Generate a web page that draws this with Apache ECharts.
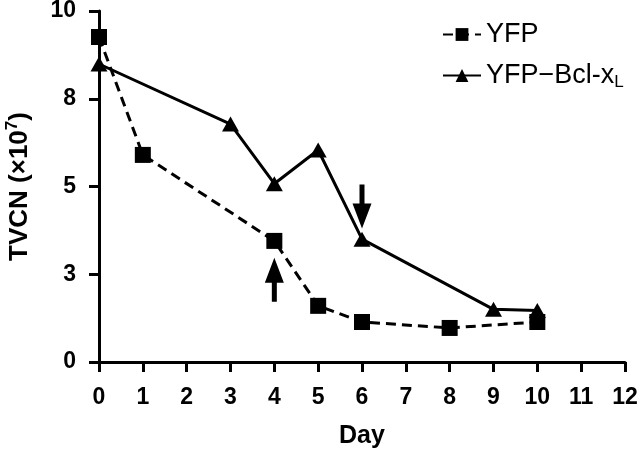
<!DOCTYPE html>
<html><head><meta charset="utf-8">
<script src="https://cdn.jsdelivr.net/npm/echarts@6/dist/echarts.min.js"></script>
<style>html,body{margin:0;padding:0;background:#fff}#c{width:640px;height:452px}</style>
</head><body><div id="c"></div>
<script>
const yfpDays = [0, 1, 4, 5, 6, 8, 10];
const yfpValues = [9.26, 5.9, 3.45, 1.6, 1.14, 0.97, 1.14];
const bclDays = [0, 3, 4, 5, 6, 9, 10];
const bclValues = [8.49, 6.78, 5.08, 6.04, 3.5, 1.5, 1.47];
const xTicks = [0,1,2,3,4,5,6,7,8,9,10,11,12];
const yTickLabels = ['0','3','5','8','10'];
const upArrow = {day: 4, center: 2.34};
const downArrow = {day: 6, center: 4.43};

const chart = echarts.init(document.getElementById('c'));
const font = 'Liberation Sans, Arial, sans-serif';
const downPath = 'path://M7,0 L12,0 L12,19 L19,19 L9.5,44 L0,19 L7,19 Z';
const upPath = 'path://M9.5,0 L19,25 L12,25 L12,44 L7,44 L7,25 L0,25 Z';
chart.setOption({
  animation: false,
  grid: {left: 99, right: 15, top: 11, bottom: 90, containLabel: false, outerBoundsMode: 'none'},
  legend: {
    orient: 'vertical', left: 437, top: 16, itemWidth: 38, itemHeight: 16, itemGap: 14,
    data: ['YFP', 'YFP-Bcl'],
    formatter: n => n === 'YFP' ? '{a|YFP}' : '{a|YFP\u2212Bcl-x}{s|L}',
    textStyle: {
      fontFamily: font, color: '#000',
      rich: {
        a: {fontSize: 27, fontFamily: font, color: '#000'},
        s: {fontSize: 17, fontFamily: font, color: '#000', padding: [14, 0, 0, 0]}
      }
    }
  },
  xAxis: {
    type: 'value', min: 0, max: 12, interval: 1,
    name: 'Day', nameLocation: 'middle', nameGap: 62,
    nameTextStyle: {fontSize: 25, fontWeight: 'bold', fontFamily: font, color: '#000'},
    axisLine: {lineStyle: {color: '#000', width: 3}},
    axisTick: {length: 10, lineStyle: {color: '#000', width: 3}},
    axisLabel: {fontSize: 23, fontWeight: 'bold', fontFamily: font, color: '#000', margin: 24,
      formatter: v => String(xTicks[Math.round(v)])},
    splitLine: {show: false}
  },
  yAxis: {
    type: 'value', min: 0, max: 10, interval: 2.5,
    name: '{n|TVCN (×10}{sup|7}{n|)}', nameLocation: 'middle', nameGap: 64,
    nameTextStyle: {fontSize: 26, fontWeight: 'bold', fontFamily: font, color: '#000',
      rich: {
        n: {fontSize: 26, fontWeight: 'bold', fontFamily: font, color: '#000'},
        sup: {fontSize: 17, fontWeight: 'bold', fontFamily: font, color: '#000', padding: [0, 0, 14, 0]}
      }},
    axisLine: {show: true, lineStyle: {color: '#000', width: 3}},
    axisTick: {show: true, length: 10, lineStyle: {color: '#000', width: 3}},
    axisLabel: {fontSize: 23, fontWeight: 'bold', fontFamily: font, color: '#000', margin: 23,
      formatter: v => yTickLabels[Math.round(v / 2.5)]},
    splitLine: {show: false}
  },
  series: [
    {
      name: 'YFP', type: 'line', data: yfpDays.map((d, i) => [d, yfpValues[i]]),
      symbol: 'rect', symbolSize: 16,
      lineStyle: {color: '#000', width: 3, type: [10, 6]},
      itemStyle: {color: '#000'}, z: 3
    },
    {
      name: 'YFP-Bcl', type: 'line', data: bclDays.map((d, i) => [d, bclValues[i]]),
      symbol: 'triangle', symbolSize: [17, 15],
      lineStyle: {color: '#000', width: 3, type: 'solid'},
      itemStyle: {color: '#000'}, z: 4,
      markPoint: {
        silent: true, animation: false, label: {show: false},
        itemStyle: {color: '#000'},
        data: [
          {coord: [upArrow.day, upArrow.center], symbol: upPath, symbolSize: [19, 44]},
          {coord: [downArrow.day, downArrow.center], symbol: downPath, symbolSize: [19, 44]}
        ]
      }
    }
  ]
});
</script></body></html>
